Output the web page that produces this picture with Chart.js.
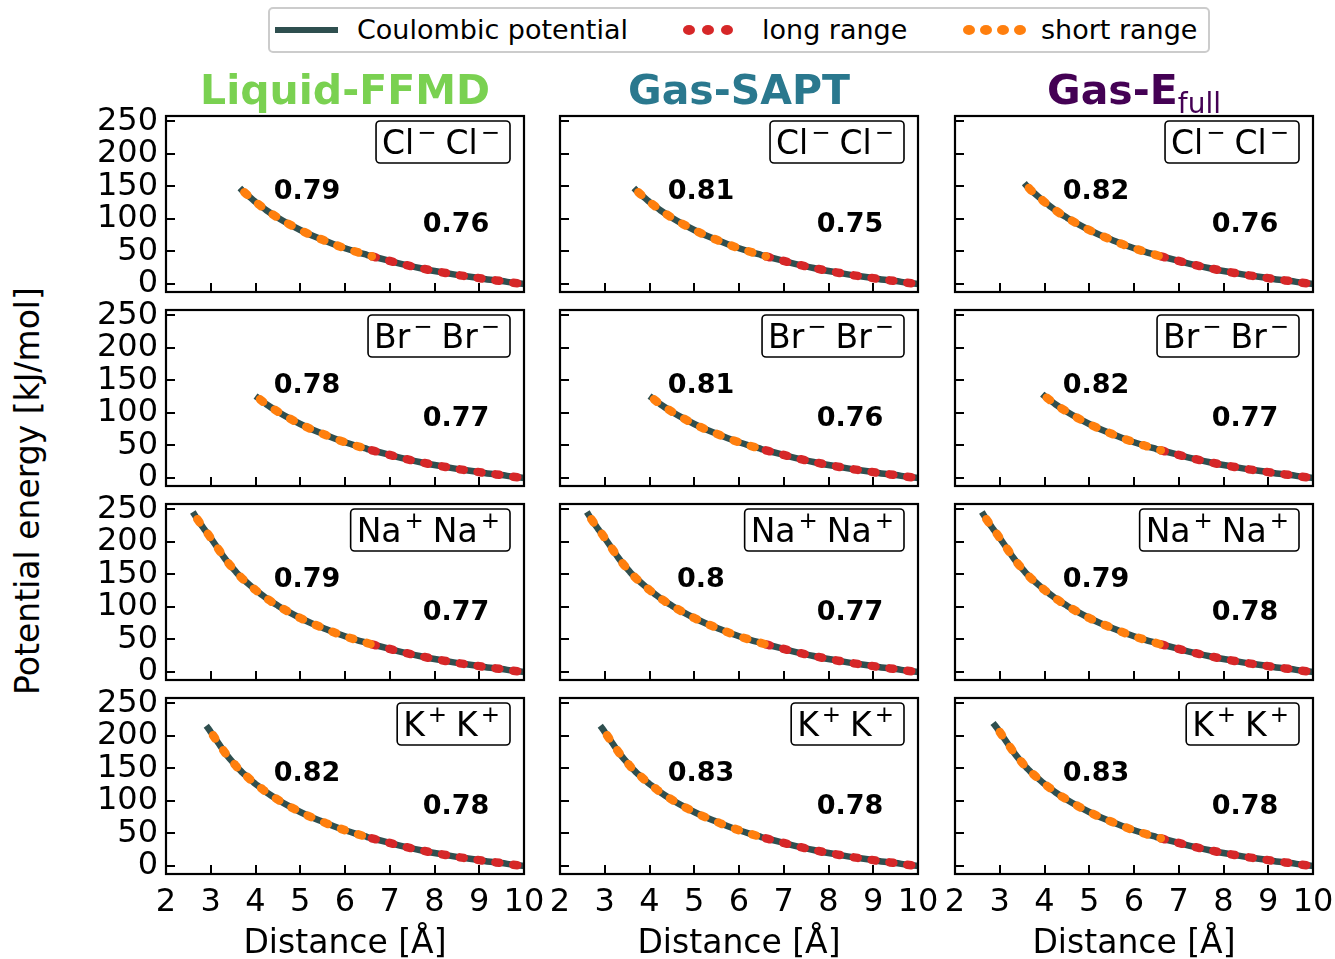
<!DOCTYPE html>
<html><head><meta charset="utf-8">
<script src="https://cdn.jsdelivr.net/npm/chart.js@4.4.0/dist/chart.umd.min.js"></script>
<style>
html,body{margin:0;padding:0;background:#fff;}
body{width:1335px;height:959px;position:relative;overflow:hidden;font-family:"DejaVu Sans",sans-serif;color:#000;}
.abs{position:absolute;}
.title{position:absolute;font-weight:bold;font-size:41px;line-height:41px;white-space:nowrap;transform:translateX(-50%);}
.xlab{position:absolute;font-size:33px;line-height:33px;white-space:nowrap;transform:translateX(-50%);}
.legtxt{position:absolute;font-size:27px;line-height:27px;white-space:nowrap;}
.dot{position:absolute;border-radius:50%;}
</style></head><body>
<div id="legend" class="abs" style="left:268px;top:7px;width:942px;height:46px;border:2px solid #cccccc;border-radius:5px;box-sizing:border-box;background:#fff;"></div>
<div id="root"></div>
<script>
// ---------------- data ----------------
const distance = [2.6,2.7,2.8,2.85,2.9,2.95,3.0,3.05,3.1,3.2,3.3,3.4,3.5,3.55,3.6,3.65,3.7,3.75,3.8,3.9,3.95,4.0,4.05,4.1,4.25,4.5,4.75,5.0,5.25,5.5,5.75,6.0,6.25,6.5,6.6,6.75,7.0,7.25,7.5,7.75,8.0,8.25,8.5,8.75,9.0,9.25,9.5,9.75,10.0];
const coulombEnergy = [246,235,225,220,215.5,211,206,201,196,186,176,167,159,155,151,147.5,144,141,138,132,129,126,123.5,121,113,102,92,83,75,68,61,55,49.5,44.5,42.5,40,35.5,31,27,23.5,20,17,14,11.5,9,6.5,4.5,2,0];
const xTickValues = [2,3,4,5,6,7,8,9,10];
const yTickValues = [0,50,100,150,200,250];
const ionNames = ["Cl","Br","Na","K"];
const ionCharges = ["\u2212","\u2212","+","+"];
const methodTitles = ["Liquid-FFMD","Gas-SAPT","Gas-E"];
const methodColors = ["#7ad151","#2a788e","#440154"];
// where the Coulombic curve starts (per ion row)
const startLiquidFFMD = [3.65, 4.0, 2.6, 2.9];
const startGasSAPT    = [3.65, 4.0, 2.6, 2.9];
const startGasEfull   = [3.55, 3.95, 2.6, 2.85];
// where the short-range curve starts (per ion row)
const shortStartLiquidFFMD = [3.75, 4.1, 2.7, 3.05];
const shortStartGasSAPT    = [3.75, 4.1, 2.7, 3.05];
const shortStartGasEfull   = [3.65, 4.05, 2.7, 3.0];
const splitDistance = 6.6;
const endDistance = 10.0;
const shortLiquidFFMD = [0.79, 0.78, 0.79, 0.82];
const longLiquidFFMD  = [0.76, 0.77, 0.77, 0.78];
const shortGasSAPT    = [0.81, 0.81, 0.8, 0.83];
const longGasSAPT     = [0.75, 0.76, 0.77, 0.78];
const shortGasEfull   = [0.82, 0.82, 0.79, 0.83];
const longGasEfull    = [0.76, 0.77, 0.78, 0.78];

const startByCol = [startLiquidFFMD, startGasSAPT, startGasEfull];
const shortStartByCol = [shortStartLiquidFFMD, shortStartGasSAPT, shortStartGasEfull];
const shortByCol = [shortLiquidFFMD, shortGasSAPT, shortGasEfull];
const longByCol  = [longLiquidFFMD, longGasSAPT, longGasEfull];

// ---------------- layout ----------------
const colLeft = [166, 560, 955];
const rowTop = [116, 310, 504, 698];
const plotW = 358, plotH = 176;
const yMin = -12.3, yMax = 258.3;
const padL = 100, padT = 20, padR = 30, padB = 50;
const FONT = '"DejaVu Sans", sans-serif';
const C_COUL = '#2f4f4f', C_LONG = '#d62728', C_SHORT = '#ff7f0e';

function series(from, to) {
  const pts = [];
  for (let i = 0; i < distance.length; i++) {
    if (distance[i] >= from - 1e-9 && distance[i] <= to + 1e-9) pts.push({x: distance[i], y: coulombEnergy[i]});
  }
  return pts;
}

const panelPlugin = {
  id: 'panel',
  afterDatasetsDraw(chart, args, o) {
    const ctx = chart.ctx, a = chart.chartArea, xs = chart.scales.x, ys = chart.scales.y;
    ctx.save();
    ctx.strokeStyle = '#000';
    ctx.lineWidth = 2;
    ctx.beginPath();
    xTickValues.forEach(v => { const px = Math.round(xs.getPixelForValue(v)); ctx.moveTo(px, a.bottom); ctx.lineTo(px, a.bottom - 9); });
    yTickValues.forEach(v => { const py = Math.round(ys.getPixelForValue(v)); ctx.moveTo(a.left, py); ctx.lineTo(a.left + 9, py); });
    ctx.stroke();
    ctx.lineWidth = 2.2;
    ctx.strokeRect(a.left, a.top, a.right - a.left, a.bottom - a.top);
    ctx.fillStyle = '#000';
    ctx.font = 'bold 27px ' + FONT;
    ctx.textAlign = 'center';
    ctx.textBaseline = 'middle';
    ctx.fillText(String(o.shortVal), xs.getPixelForValue(5.15), ys.getPixelForValue(142));
    ctx.fillText(String(o.longVal), xs.getPixelForValue(8.48), ys.getPixelForValue(91));
    const mainF = '33px ' + FONT, supF = '23px ' + FONT;
    ctx.font = mainF; const wIon = ctx.measureText(o.ion).width;
    ctx.font = supF; const wSup = ctx.measureText(o.charge).width;
    const gapBefore = 3, gapAfter = 9, pl = 6, pr = 10;
    const textW = 2 * (wIon + gapBefore + wSup) + gapAfter;
    const bw = pl + textW + pr, bh = 42;
    const bx = a.right - 14 - bw, by = a.top + 5;
    ctx.beginPath();
    ctx.roundRect(bx, by, bw, bh, 4);
    ctx.fillStyle = '#fff'; ctx.fill();
    ctx.lineWidth = 1.6; ctx.strokeStyle = '#000'; ctx.stroke();
    ctx.fillStyle = '#000';
    ctx.textAlign = 'left'; ctx.textBaseline = 'alphabetic';
    const base = by + 33;
    let cx = bx + pl;
    for (let k = 0; k < 2; k++) {
      ctx.font = mainF; ctx.fillText(o.ion, cx, base); cx += wIon + gapBefore;
      ctx.font = supF; ctx.fillText(o.charge, cx, base - 14); cx += wSup + gapAfter;
    }
    ctx.restore();
  }
};

const root = document.getElementById('root');
for (let r = 0; r < 4; r++) {
  for (let c = 0; c < 3; c++) {
    const W = padL + plotW + padR, H = padT + plotH + padB;
    const div = document.createElement('div');
    div.className = 'abs';
    div.style.left = (colLeft[c] - padL) + 'px';
    div.style.top = (rowTop[r] - padT) + 'px';
    div.style.width = W + 'px'; div.style.height = H + 'px';
    const cv = document.createElement('canvas');
    cv.width = W; cv.height = H;
    cv.style.width = W + 'px'; cv.style.height = H + 'px';
    div.appendChild(cv); root.appendChild(div);
    const start = startByCol[c][r];
    const shortStart = shortStartByCol[c][r];
    const dotStyle = { borderWidth: 8.5, borderDash: [4, 14], borderCapStyle: 'round', pointRadius: 0, cubicInterpolationMode: 'monotone', clip: 0 };
    new Chart(cv, {
      type: 'line',
      data: {
        datasets: [
          Object.assign({ label: 'short range', data: series(shortStart, splitDistance), borderColor: C_SHORT, order: 1 }, dotStyle),
          Object.assign({ label: 'long range', data: series(splitDistance, endDistance), borderColor: C_LONG, order: 2 }, dotStyle),
          { label: 'Coulombic potential', data: series(start, endDistance), borderColor: C_COUL, borderWidth: 6.5, pointRadius: 0, cubicInterpolationMode: 'monotone', order: 3, clip: 0 }
        ]
      },
      options: {
        responsive: false, animation: false, devicePixelRatio: 1,
        layout: { padding: { left: 0, top: padT, right: padR, bottom: 0 } },
        plugins: { legend: { display: false }, tooltip: { enabled: false },
          panel: { ion: ionNames[r], charge: ionCharges[r], shortVal: shortByCol[c][r], longVal: longByCol[c][r] } },
        scales: {
          x: { type: 'linear', min: 2, max: 10,
            afterBuildTicks: s => { s.ticks = xTickValues.map(v => ({value: v})); },
            afterFit: s => { s.height = padB; s.paddingLeft = 0; s.paddingRight = 0; s.paddingTop = 0; s.paddingBottom = 0; },
            grid: { display: false, drawTicks: false }, border: { display: false },
            ticks: { display: r === 3, autoSkip: false, maxRotation: 0, padding: 9, color: '#000', font: { family: FONT, size: 32 } } },
          y: { type: 'linear', min: yMin, max: yMax,
            afterBuildTicks: s => { s.ticks = yTickValues.map(v => ({value: v})); },
            afterFit: s => { s.width = padL; s.paddingTop = 0; s.paddingBottom = 0; s.paddingLeft = 0; s.paddingRight = 0; },
            grid: { display: false, drawTicks: false }, border: { display: false },
            ticks: { display: c === 0, autoSkip: false, padding: 8, color: '#000', font: { family: FONT, size: 32 } } }
        }
      },
      plugins: [panelPlugin]
    });
  }
}

for (let c = 0; c < 3; c++) {
  const cxp = colLeft[c] + plotW / 2;
  const t = document.createElement('div');
  t.className = 'title';
  t.style.left = cxp + 'px'; t.style.top = '70px'; t.style.color = methodColors[c];
  t.textContent = methodTitles[c];
  if (c === 2) {
    const s = document.createElement('span');
    s.textContent = 'full';
    s.style.fontWeight = 'normal'; s.style.fontSize = '28px'; s.style.position = 'relative'; s.style.top = '9px';
    t.appendChild(s);
  }
  document.body.appendChild(t);
  const xl = document.createElement('div');
  xl.className = 'xlab';
  xl.style.left = cxp + 'px'; xl.style.top = '925px';
  xl.textContent = 'Distance [\u00c5]';
  document.body.appendChild(xl);
}
const yl = document.createElement('div');
yl.style.cssText = 'position:absolute;left:27px;top:491px;font-size:33px;line-height:33px;white-space:nowrap;transform:translate(-50%,-50%) rotate(-90deg);';
yl.textContent = 'Potential energy [kJ/mol]';
document.body.appendChild(yl);

function addAbs(html){ const d = document.createElement('div'); d.innerHTML = html; document.body.appendChild(d.firstChild); }
addAbs('<div class="abs" style="left:275px;top:27px;width:63px;height:6px;background:' + C_COUL + '"></div>');
addAbs('<div class="legtxt" style="left:357px;top:16px;">Coulombic potential</div>');
[683, 702, 721].forEach(x => addAbs('<div class="dot" style="left:' + x + 'px;top:25px;width:12px;height:10px;background:' + C_LONG + '"></div>'));
addAbs('<div class="legtxt" style="left:762px;top:16px;">long range</div>');
[963, 980, 997, 1014].forEach(x => addAbs('<div class="dot" style="left:' + x + 'px;top:25px;width:12px;height:10px;background:' + C_SHORT + '"></div>'));
addAbs('<div class="legtxt" style="left:1041px;top:16px;">short range</div>');
</script>
</body></html>
